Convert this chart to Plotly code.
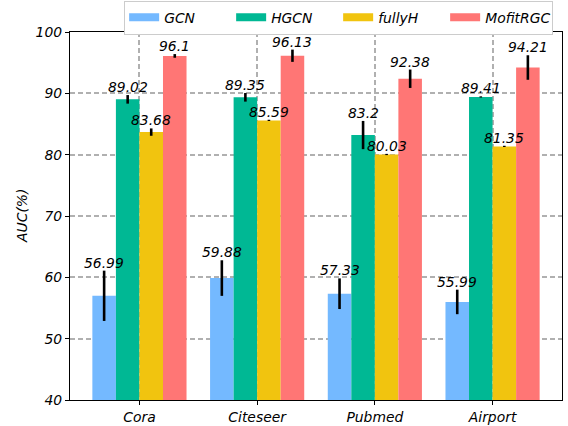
import plotly.graph_objects as go

datasets = ["Cora", "Citeseer", "Pubmed", "Airport"]
methods = ["GCN", "HGCN", "fullyH", "MofitRGC"]
colors = ["#74b9ff", "#00b894", "#f1c40f", "#ff7675"]

gcn = [56.99, 59.88, 57.33, 55.99]
hgcn = [89.02, 89.35, 83.2, 89.41]
fullyh = [83.68, 85.59, 80.03, 81.35]
mofit = [96.1, 96.13, 92.38, 94.21]

gcn_err = [4.1, 2.9, 2.5, 2.0]
hgcn_err = [0.7, 0.7, 2.3, 0.1]
fullyh_err = [0.6, 0.1, 0.1, 0.1]
mofit_err = [0.3, 1.0, 1.5, 2.0]

values = [gcn, hgcn, fullyh, mofit]
errors = [gcn_err, hgcn_err, fullyh_err, mofit_err]

FONT = "DejaVu Sans"
FS = 13.9
bar_w = 0.2
xpos = list(range(len(datasets)))

fig = go.Figure()
annotations = []
for j, (m, c, vals, errs) in enumerate(zip(methods, colors, values, errors)):
    off = (j - 1.5) * bar_w
    fig.add_trace(go.Bar(
        x=[x + off for x in xpos], y=vals, width=bar_w, name=m,
        marker=dict(color=c, line=dict(width=0)),
        error_y=dict(type="data", array=errs, color="black", thickness=2.6, width=0),
        showlegend=False, legendgroup=m,
    ))
    fig.add_trace(go.Scatter(
        x=[None], y=[None], mode="lines", name=m, legendgroup=m,
        line=dict(color=c, width=8),
    ))
    for x, v, e in zip(xpos, vals, errs):
        annotations.append(dict(
            x=x + off, y=v + e, xref="x", yref="y", text=str(v),
            showarrow=False, yanchor="bottom", xanchor="center", yshift=-2,
            font=dict(family=FONT, size=FS, color="black", style="italic"),
        ))

annotations.append(dict(
    x=-0.0976, y=0.5, xref="paper", yref="paper", text="AUC(%)", textangle=-90,
    showarrow=False, xanchor="center", yanchor="middle",
    font=dict(family=FONT, size=FS, color="black", style="italic"),
))

fig.update_layout(
    width=568, height=426,
    margin=dict(l=70, r=6, t=32, b=26, autoexpand=False),
    paper_bgcolor="white", plot_bgcolor="white",
    barmode="overlay",
    font=dict(family=FONT, size=FS, color="black", style="italic"),
    annotations=annotations,
    legend=dict(
        orientation="h", x=0.982, y=1.085, xanchor="right", yanchor="top",
        bordercolor="#cccccc", borderwidth=1, bgcolor="white",
        font=dict(family=FONT, size=FS, style="italic"),
        itemwidth=30, tracegroupgap=0,
        entrywidth=62, entrywidthmode="pixels",
    ),
    xaxis=dict(
        range=[-0.59, 3.59], tickmode="array", tickvals=xpos, ticktext=datasets,
        showline=True, linecolor="black", linewidth=1.3, mirror=True,
        ticks="outside", ticklen=4, tickcolor="black",
        showgrid=True, gridcolor="#b0b0b0", gridwidth=1.5, griddash="5px,3px",
        zeroline=False, automargin=False,
        tickfont=dict(family=FONT, size=FS, style="italic"),
    ),
    yaxis=dict(
        range=[40, 100], tickmode="array", tickvals=[40, 50, 60, 70, 80, 90, 100],
        showline=True, linecolor="black", linewidth=1.3, mirror=True,
        ticks="outside", ticklen=4, tickcolor="black",
        showgrid=True, gridcolor="#b0b0b0", gridwidth=1.5, griddash="5px,3px",
        zeroline=False, automargin=False,
        tickfont=dict(family=FONT, size=FS, style="italic"),
    ),
)

fig.write_html("out.html", config={"displayModeBar": False},
               post_script="document.body.style.margin='0';")
